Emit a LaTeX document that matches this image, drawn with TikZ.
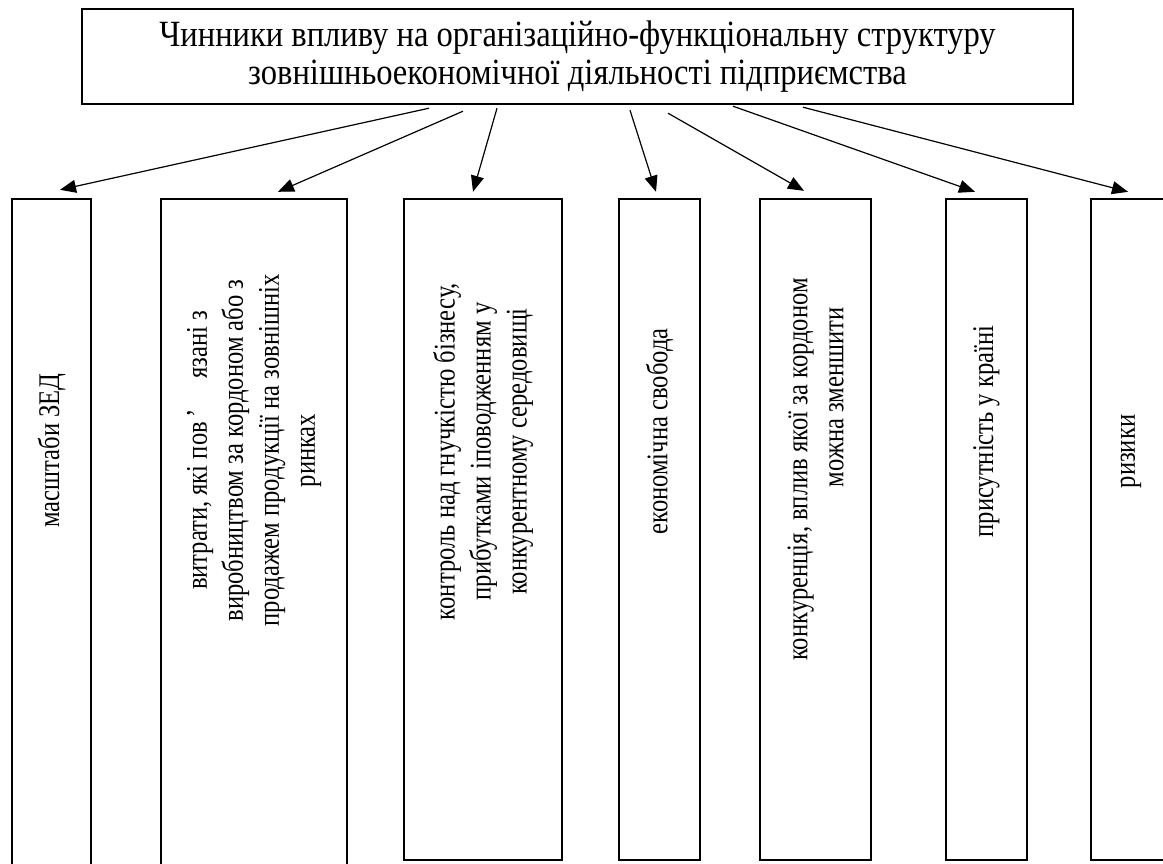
\documentclass[tikz,border=0pt]{standalone}
\usepackage{fontspec}
\setmainfont{Liberation Serif}[FakeStretch=0.88]
\newfontfamily\boxfont{Liberation Serif}[FakeStretch=0.82]
\usetikzlibrary{arrows.meta,positioning}

\begin{document}
\begin{tikzpicture}[x=0.5pt, y=-0.5pt, >={Triangle[length=8pt,width=6.5pt]},
    box/.style={rectangle, draw, line width=1.2pt, inner sep=0pt},
    vtext/.style={rotate=90, align=center, inner sep=0pt, font=\boxfont\fontsize{15}{18}\selectfont},
    link/.style={->, line width=0.6pt}]
    \useasboundingbox (0,0) rectangle (1163,863);

    % Nodes
    \node (factors) [box, minimum width=495.5pt, minimum height=47.5pt, align=center, font=\fontsize{18.5}{19}\selectfont] at (577.5,56.5) {Чинники впливу на організаційно-функціональну структуру\\зовнішньоекономічної діяльності підприємства};
    \node (scale) [box, minimum width=39.5pt, minimum height=335.5pt] at (51.5,534.5) {};
    \node (costs) [box, minimum width=93pt, minimum height=335.5pt] at (254,534.5) {};
    \node (control) [box, minimum width=79pt, minimum height=330.5pt] at (483,529.5) {};
    \node (freedom) [box, minimum width=40.5pt, minimum height=330.5pt] at (659.5,529.5) {};
    \node (competition) [box, minimum width=55.5pt, minimum height=330.5pt] at (815.5,529.5) {};
    \node (presence) [box, minimum width=40.5pt, minimum height=330.5pt] at (986.5,529.5) {};
    \node (risks) [box, minimum width=40pt, minimum height=330.5pt] at (1131,529.5) {};

    % Texts in the boxes
    \node (scale_text) [vtext] at ([yshift=42pt]scale.center) {масштаби ЗЕД};
    \node (costs_text) [vtext] at ([yshift=42pt]costs.center) {витрати, які пов\,’\quad язані з\\виробництвом за кордоном або з\\продажем продукції на зовнішніх\\ринках};
    \node (control_text) [vtext] at ([yshift=39pt]control.center) {контроль над гнучкістю бізнесу,\\прибутками іповодженням у\\конкурентному середовищі};
    \node (freedom_text) [vtext] at ([yshift=49pt]freedom.center) {економічна свобода};
    \node (competition_text) [vtext] at ([yshift=30pt]competition.center) {конкуренція, вплив якої за кордоном\\\hspace*{72pt}можна зменшити};
    \node (presence_text) [vtext] at ([yshift=49pt]presence.center) {присутність у країні};
    \node (risks_text) [vtext] at ([yshift=39pt]risks.center) {ризики};

    % Arrows
    \draw[link] ([xshift=-74.25pt,yshift=-1.5pt]factors.south) -- ([xshift=4.25pt,yshift=4pt]scale.north);
    \draw[link] ([xshift=-57.25pt,yshift=-3pt]factors.south) -- ([xshift=12pt,yshift=3pt]costs.north);
    \draw[link] ([xshift=-40.25pt,yshift=-1.5pt]factors.south) -- ([xshift=-5pt,yshift=3pt]control.north);
    \draw[link] ([xshift=26.25pt,yshift=-2.5pt]factors.south) -- ([xshift=-1.75pt,yshift=3pt]freedom.north);
    \draw[link] ([xshift=45.25pt,yshift=-4pt]factors.south) -- ([xshift=-5.75pt,yshift=3.5pt]competition.north);
    \draw[link] ([xshift=77.75pt,yshift=-0.5pt]factors.south) -- ([xshift=-5.75pt,yshift=3pt]presence.north);
    \draw[link] ([xshift=112.75pt,yshift=-1pt]factors.south) -- ([xshift=-1.5pt,yshift=3pt]risks.north);
\end{tikzpicture}
\end{document}
